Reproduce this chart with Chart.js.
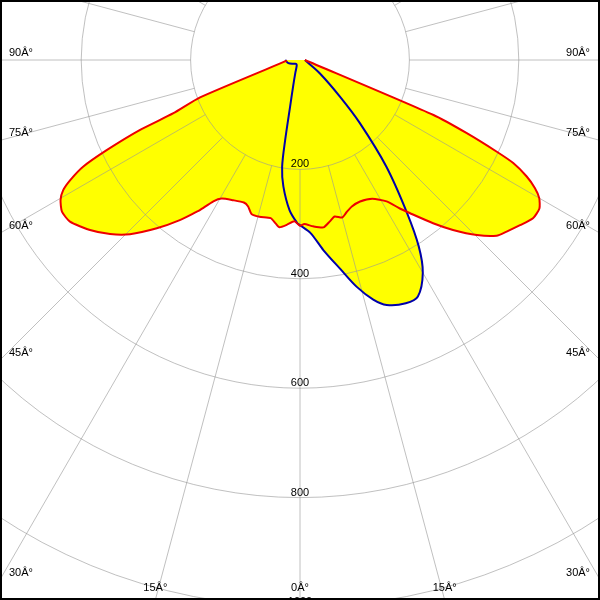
<!DOCTYPE html>
<html>
<head>
<meta charset="utf-8">
<script src="https://cdn.jsdelivr.net/npm/chart.js@4.4.0/dist/chart.umd.min.js"></script>
<style>
  body { margin: 0; background: #fff; }
  canvas { display: block; }
</style>
</head>
<body>
<canvas id="polar" width="600" height="600"></canvas>
<script>
// intensity rings and angle labels
var ringValues = [200, 400, 600, 800, 1000, 1200];
var angleTicks = [0, 15, 30, 45, 60, 75, 90];

// C0-C180 plane (red), angle in degrees, negative = left side
var redAngles = [-87, -69.5, -67.2, -66.4, -65, -63.8, -62.4, -61.2, -59.7, -57.5, -54.9, -51, -47.5, -44.3,
    -40.4, -36.9, -34.3, -33.7, -31.5, -29.5, -25.5, -21.5, -19.5, -17.5, -14.5, -10.5, -8.5, -7, -4.5, -2,
    0, 1.5, 4.5, 8, 10.5, 12.5, 15, 17, 19.5, 23, 27.5, 31.5, 34, 35.7, 39.2, 42, 45.3, 48.2, 50.3, 53.1,
    55.8, 58.2, 60, 61.4, 62.8, 64.2, 65, 66.3, 67.6, 90];
var redValues = [24, 195, 251, 319, 390, 442, 474, 494, 507, 516, 514, 494, 471, 445,
    404, 366, 336, 330, 303, 291, 284, 280, 284, 295, 296, 294, 302, 308, 302, 295,
    303, 300, 305, 309, 300, 293, 298, 291, 284, 281, 286, 303, 328, 345, 385, 418, 455, 482, 491, 503,
    515, 515, 505, 489, 466, 433, 397, 333, 264, 9];

// C90-C270 plane (blue)
var blueAngles = [-90, -75, -60, -45, -30, -20, -15, -12, -10.5, -9.5, -7.5, -4, -1, 0, 3.5, 7, 11,
    14, 17, 19.5, 23.5, 26.5, 30, 32.5, 35, 39, 43.5, 47.5, 56, 76, 90];
var blueValues = [27, 22, 14, 10, 12, 25, 47, 87, 149, 198, 233, 275, 298, 302, 317, 350, 390,
    427, 458, 475, 485, 483, 449, 404, 341, 251, 159, 99, 44, 13, 9];

var PX_PER_CD = 0.547;
var CENTER_X = 300, CENTER_Y = 60;

function toPoints(angles, values) {
    return angles.map(function (a, i) {
        var r = a * Math.PI / 180;
        return { x: values[i] * Math.sin(r), y: -values[i] * Math.cos(r) };
    });
}

var polarGrid = {
    id: 'polarGrid',
    afterDatasetDraw: function (chart, args) {
        if (args.index !== 2) return; // after both yellow fills
        var ctx = chart.ctx;
        var xs = chart.scales.x, ys = chart.scales.y;
        var cx = xs.getPixelForValue(0), cy = ys.getPixelForValue(0);
        var k = xs.getPixelForValue(100) - cx;
        ctx.save();
        ctx.strokeStyle = 'rgba(150,150,150,0.6)';
        ctx.lineWidth = 1;
        ringValues.forEach(function (v) {
            ctx.beginPath();
            ctx.arc(cx, cy, v * k / 100, 0, Math.PI * 2);
            ctx.stroke();
        });
        var inner = ringValues[0] * k / 100, outer = 3000 * k / 100;
        for (var a = 0; a < 360; a += 15) {
            var r = a * Math.PI / 180;
            ctx.beginPath();
            ctx.moveTo(cx + inner * Math.sin(r), cy + inner * Math.cos(r));
            ctx.lineTo(cx + outer * Math.sin(r), cy + outer * Math.cos(r));
            ctx.stroke();
        }
        ctx.restore();
    },
    afterDraw: function (chart) {
        var ctx = chart.ctx;
        var W = chart.width, H = chart.height;
        var xs = chart.scales.x, ys = chart.scales.y;
        var cx = xs.getPixelForValue(0), cy = ys.getPixelForValue(0);
        var k = xs.getPixelForValue(100) - cx;
        ctx.save();
        ctx.fillStyle = '#000';
        ctx.font = '11px "Liberation Sans", Arial, sans-serif';
        ctx.textBaseline = 'middle';
        ctx.textAlign = 'center';
        ringValues.forEach(function (v) {
            ctx.fillText(String(v), cx, cy + v * k / 100 - 5);
        });
        angleTicks.forEach(function (a) {
            var r = a * Math.PI / 180;
            [-1, 1].forEach(function (side) {
                if (a === 0 && side === -1) return;
                var dx = side * Math.sin(r), dy = Math.cos(r);
                var tSide = dx !== 0 ? (side < 0 ? cx : W - cx) / Math.abs(dx) : Infinity;
                var tBottom = dy > 1e-9 ? (H - cy) / dy : Infinity;
                var text = a + 'Â°';
                if (tSide <= tBottom) {
                    var y = cy + tSide * dy - 7;
                    ctx.textAlign = side < 0 ? 'left' : 'right';
                    ctx.fillText(text, side < 0 ? 9 : W - 10, y);
                } else {
                    ctx.textAlign = 'center';
                    ctx.fillText(text, cx + tBottom * dx, H - 12);
                }
            });
        });
        ctx.strokeStyle = '#000';
        ctx.lineWidth = 2;
        ctx.strokeRect(1, 1, W - 2, H - 2);
        ctx.restore();
    }
};

var redPoints = toPoints(redAngles, redValues);
var bluePoints = toPoints(blueAngles, blueValues);

new Chart(document.getElementById('polar'), {
    type: 'scatter',
    data: {
        datasets: [
            { data: redPoints, showLine: true, fill: false, borderColor: '#ee0000', borderWidth: 2, pointRadius: 0, tension: 0.2 },
            { data: bluePoints, showLine: true, fill: false, borderColor: '#0000aa', borderWidth: 2, pointRadius: 0, tension: 0.3 },
            { data: redPoints, showLine: true, fill: 'shape', backgroundColor: '#ffff00', borderWidth: 0, pointRadius: 0, tension: 0.2 },
            { data: bluePoints, showLine: true, fill: 'shape', backgroundColor: '#ffff00', borderWidth: 0, pointRadius: 0, tension: 0.3 }
        ]
    },
    options: {
        responsive: false,
        animation: false,
        layout: { padding: 0 },
        scales: {
            x: { type: 'linear', display: false, min: -CENTER_X / PX_PER_CD, max: (600 - CENTER_X) / PX_PER_CD },
            y: { type: 'linear', display: false, min: -(600 - CENTER_Y) / PX_PER_CD, max: CENTER_Y / PX_PER_CD }
        },
        plugins: {
            legend: { display: false },
            tooltip: { enabled: false }
        }
    },
    plugins: [polarGrid]
});
</script>
</body>
</html>
